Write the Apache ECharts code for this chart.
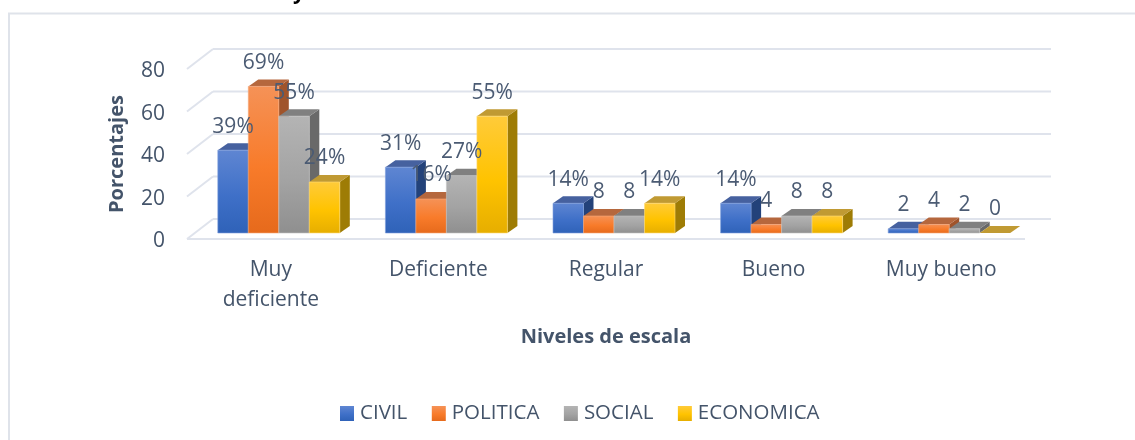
<!DOCTYPE html>
<html>
<head>
<meta charset="utf-8">
<style>html,body{margin:0;padding:0;background:#fff;overflow:hidden}#c{width:1135px;height:440px}</style>
<script src="https://cdn.jsdelivr.net/npm/echarts@6/dist/echarts.min.js"></script>
</head>
<body>
<div id="c"></div>
<script>
const categories = ['Muy\ndeficiente', 'Deficiente', 'Regular', 'Bueno', 'Muy bueno'];
const seriesNames = ['CIVIL', 'POLITICA', 'SOCIAL', 'ECONOMICA'];
const civil = [39, 31, 14, 14, 2];
const politica = [69, 16, 8, 4, 4];
const social = [55, 27, 8, 8, 2];
const economica = [24, 55, 14, 8, 0];
const civilLabels = ['39%', '31%', '14%', '14%', '2'];
const politicaLabels = ['69%', '16%', '8', '4', '4'];
const socialLabels = ['55%', '27%', '8', '8', '2'];
const economicaLabels = ['24%', '55%', '14%', '8', '0'];
const yTicks = [0, 20, 40, 60, 80];

const values = [civil, politica, social, economica];
const labels = [civilLabels, politicaLabels, socialLabels, economicaLabels];
const ink = '#44546a', labelInk = '#4b5b73', FONT = '"Open Sans", sans-serif', wall = '#dfe3ec';
const grad = (a, b, c) => ({type:'linear', x:0, y:0, x2:0, y2:1, colorStops:[{offset:0,color:a},{offset:.55,color:b},{offset:1,color:c}]});
const palettes = [
  {front:grad('#5f86d2','#3f70c8','#2f62b8'), top:'#46619f', side:'#23427a', edge:'#7f9fdc'},
  {front:grad('#f59257','#f87b2a','#e66a1c'), top:'#b5673d', side:'#a0542b', edge:'#f7a77a'},
  {front:grad('#b4b4b4','#a3a3a3','#8f8f8f'), top:'#808080', side:'#696969', edge:'#c4c4c4'},
  {front:grad('#ffcb3a','#ffc300','#e6ae00'), top:'#c09a33', side:'#9e7c05', edge:'#ffdc7a'}
];
const DX = 10, DY = 7, WALL_DX = 26, WALL_DY = 20, BASE_UP = 6, BAR = 30.5, SHIFT = 8;

function barGeom(api, s) {
  const c = api.value(0), v = api.value(1);
  const bot = api.coord([c, 0]), top = api.coord([c, v]);
  const x = bot[0] + SHIFT + (s - 2) * BAR;
  return {x, yTop: top[1] - BASE_UP, yBot: bot[1] - BASE_UP};
}
const barSeries = seriesNames.map((name, s) => ({
  type:'custom', name, z:3, silent:true,
  itemStyle:{color:palettes[s].front},
  data: values[s].map((v, i) => [i, v]),
  renderItem(params, api) {
    const g = barGeom(api, s), p = palettes[s], r = g.x + BAR;
    const kids = [];
    if (g.yBot - g.yTop > 0) {
      kids.push({type:'polygon', shape:{points:[[r,g.yTop],[r+DX,g.yTop-DY],[r+DX,g.yBot-DY],[r,g.yBot]]}, style:{fill:p.side}});
    }
    kids.push({type:'polygon', shape:{points:[[g.x,g.yTop],[g.x+DX,g.yTop-DY],[r+DX,g.yTop-DY],[r,g.yTop]]}, style:{fill:p.top}});
    if (g.yBot - g.yTop > 0) {
      kids.push({type:'rect', shape:{x:g.x,y:g.yTop,width:BAR,height:g.yBot-g.yTop}, style:{fill:p.front, stroke:p.edge, lineWidth:.6}});
    }
    return {type:'group', children:kids};
  }
}));
const labelSeries = seriesNames.map((name, s) => ({
  type:'custom', name:name + ' labels', z:6, silent:true,
  data: values[s].map((v, i) => [i, v]),
  renderItem(params, api) {
    const g = barGeom(api, s);
    return {type:'text', style:{x:g.x + BAR/2, y:g.yTop - 23.5, text:labels[s][params.dataIndex],
      fill:labelInk, font:'21px ' + FONT, align:'center', verticalAlign:'middle'}};
  }
}));
const wallSeries = {
  type:'custom', name:'wall', z:1, silent:true,
  data: yTicks.map(v => [0, v]),
  renderItem(params, api) {
    const front = api.coord([0, api.value(1)]);
    const band = api.size([1, 0])[0];
    const x0 = front[0] - band/2, y = front[1];
    const right = x0 + band * categories.length;
    const st = {stroke:wall, lineWidth:2, fill:null};
    const kids = [
      {type:'line', shape:{x1:x0,y1:y,x2:x0+WALL_DX,y2:y-WALL_DY}, style:st},
      {type:'line', shape:{x1:x0+WALL_DX,y1:y-WALL_DY,x2:right+WALL_DX,y2:y-WALL_DY}, style:st}
    ];
    if (api.value(1) === 0) kids.push({type:'line', shape:{x1:x0,y1:y,x2:right,y2:y}, style:st});
    return {type:'group', children:kids};
  }
};

const chart = echarts.init(document.getElementById('c'), null, {renderer:'canvas'});
chart.setOption({
  animation:false,
  backgroundColor:'#fff',
  grid:{left:187, top:69, width:838, height:170, containLabel:false},
  xAxis:{type:'category', data:categories, axisLine:{show:false}, axisTick:{show:false},
    axisLabel:{color:ink, fontFamily:FONT, fontSize:21, lineHeight:30, margin:16},
    name:'Niveles de escala', nameLocation:'middle', nameGap:88,
    nameTextStyle:{color:ink, fontFamily:FONT, fontSize:20, fontWeight:'bold'}},
  yAxis:{type:'value', min:0, max:80, interval:20, axisLine:{show:false}, axisTick:{show:false}, splitLine:{show:false},
    axisLabel:{color:ink, fontFamily:FONT, fontSize:21, margin:22, verticalAlign:'top', lineHeight:5},
    name:'Porcentajes', nameLocation:'middle', nameGap:60, nameRotate:90,
    nameTextStyle:{color:ink, fontFamily:FONT, fontSize:20, fontWeight:'bold'}},
  legend:{data:seriesNames, left:340, top:403, padding:0, icon:'rect', itemWidth:14, itemHeight:15, itemGap:24.5,
    textStyle:{color:ink, fontFamily:FONT, fontSize:20.5, padding:[0,0,0,1]}, selectedMode:false},
  graphic:[
    {type:'polyline', shape:{points:[[9,440],[9,13.5],[1135,13.5]]}, style:{stroke:'#dfe3ea', lineWidth:2, fill:null}, silent:true},
    {type:'text', style:{x:293, y:-17, text:'y', fill:'#000', font:'bold 21px "Open Sans", sans-serif'}, silent:true},
    {type:'text', style:{x:345, y:-19, text:',', fill:'#000', font:'bold 21px "Open Sans", sans-serif'}, silent:true}
  ],
  series:[wallSeries, ...barSeries, ...labelSeries]
});
</script>
</body>
</html>
